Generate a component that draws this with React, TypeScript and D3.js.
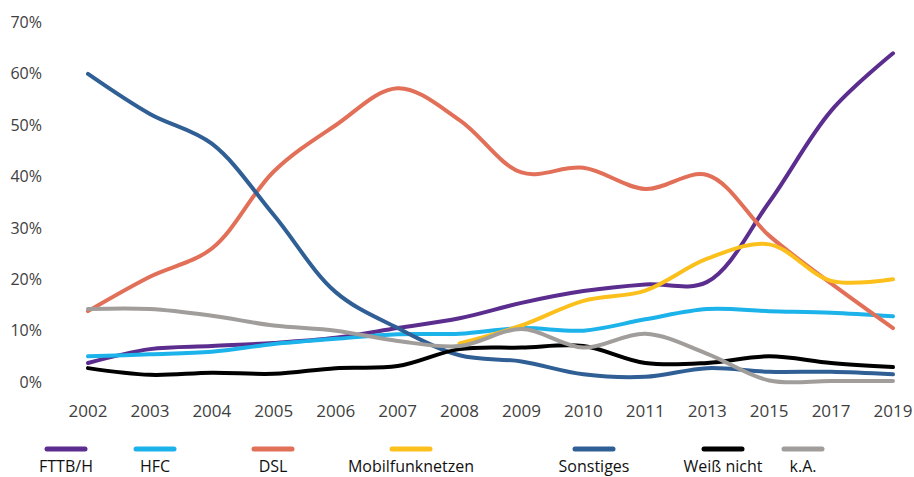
import * as d3 from "d3";

const years = ["2002", "2003", "2004", "2005", "2006", "2007", "2008", "2009", "2010", "2011", "2013", "2015", "2017", "2019"];
const yTicks = [0, 10, 20, 30, 40, 50, 60, 70];

const fttbh = [3.7, 6.4, 7, 7.6, 8.6, 10.5, 12.4, 15.4, 17.7, 19, 19.5, 35, 52.8, 64];
const hfc = [5, 5.4, 5.9, 7.4, 8.4, 9.3, 9.4, 10.5, 10, 12.2, 14.2, 13.8, 13.5, 12.8];
const dsl = [13.8, 20.5, 26, 41, 50, 57.2, 51, 40.8, 41.7, 37.6, 40.3, 28.5, 19.2, 10.5];
const mobil = [null, null, null, null, null, null, 7.5, 11, 15.8, 17.8, 24, 26.8, 19.7, 20];
const sonstiges = [60, 52.2, 46.4, 32.5, 17.5, 10.5, 5.2, 4, 1.5, 1, 2.7, 2, 2, 1.5];
const weissNicht = [2.7, 1.4, 1.8, 1.6, 2.7, 3.1, 6.4, 6.7, 7, 3.7, 3.7, 5, 3.7, 2.9];
const ka = [14.2, 14.2, 12.9, 11, 10, 8, 7, 10.3, 6.7, 9.4, 5.5, 0.3, 0.2, 0.2];

const seriesNames = ["FTTB/H", "HFC", "DSL", "Mobilfunknetzen", "Sonstiges", "Weiß nicht", "k.A."];
const seriesValues = [fttbh, hfc, dsl, mobil, sonstiges, weissNicht, ka];
const colors = ["#5b2d8e", "#1cb2ea", "#e26f57", "#fbc01c", "#2f5f94", "#000000", "#a09d9a"];
const legendX = [66, 155, 273, 411, 594, 723, 803];

const W = 914;
const H = 477;
const font = "'Open Sans', 'Liberation Sans', sans-serif";

export default function App() {
  const x = d3.scalePoint<string>().domain(years).range([88, 893]);
  const y = d3.scaleLinear().domain([0, 70]).range([382, 22.5]);

  const line = d3
    .line<number | null>()
    .defined((d) => d != null)
    .x((_, i) => x(years[i])!)
    .y((d) => y(d as number))
    .curve(d3.curveCatmullRom.alpha(0.5));

  return (
    <svg width={W} height={H} style={{ position: "absolute", left: 0, top: 0, background: "#fff" }}>
      {yTicks.map((t) => (
        <text key={t} x={42} y={y(t)} dy="0.35em" textAnchor="end" fontFamily={font} fontSize={16} fill="#404040">
          {t}%
        </text>
      ))}
      {years.map((yr) => (
        <text key={yr} x={x(yr)} y={417} textAnchor="middle" fontFamily={font} fontSize={17} fill="#404040">
          {yr}
        </text>
      ))}
      {seriesValues.map((vals, i) => (
        <path
          key={seriesNames[i]}
          d={line(vals) || ""}
          fill="none"
          stroke={colors[i]}
          strokeWidth={4}
          strokeLinecap="round"
          strokeLinejoin="round"
        />
      ))}
      {seriesNames.map((name, i) => (
        <g key={name}>
          <line
            x1={legendX[i] - 19}
            x2={legendX[i] + 19}
            y1={449}
            y2={449}
            stroke={colors[i]}
            strokeWidth={5}
            strokeLinecap="round"
          />
          <text x={legendX[i]} y={472} textAnchor="middle" fontFamily={font} fontSize={16} fill="#111">
            {name}
          </text>
        </g>
      ))}
    </svg>
  );
}
